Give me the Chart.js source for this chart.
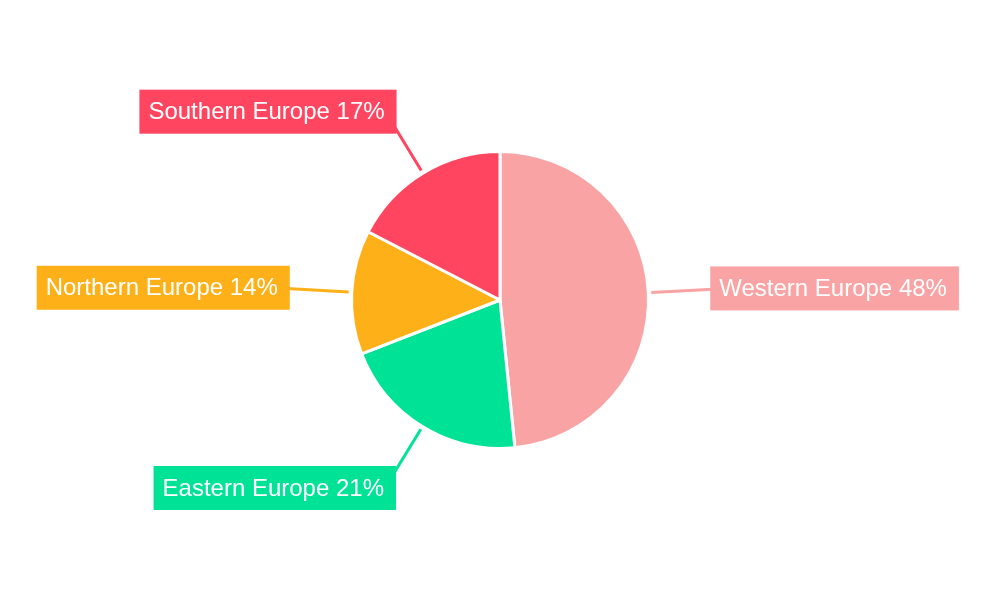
<!DOCTYPE html>
<html>
<head>
<meta charset="utf-8">
<script src="https://cdn.jsdelivr.net/npm/chart.js@4.4.0/dist/chart.umd.min.js"></script>
<style>
html,body{margin:0;padding:0;background:#fff;}
#wrap{width:1000px;height:600px;position:relative;}
</style>
</head>
<body>
<div id="wrap"><canvas id="c" width="1000" height="600"></canvas></div>
<script>
const categories = ["Western Europe", "Eastern Europe", "Northern Europe", "Southern Europe"];
const shares = [48.4, 20.7, 13.5, 17.4];
const sliceColors = ["#F9A3A4", "#00E396", "#FEB019", "#FF4560"];

const calloutPlugin = {
  id: 'callouts',
  afterDatasetsDraw(chart) {
    const ctx = chart.ctx;
    const meta = chart.getDatasetMeta(0);
    const ds = chart.data.datasets[0];
    const total = ds.data.reduce((a, b) => a + b, 0);
    const items = meta.data.map((arc, i) => {
      const p = arc.getProps(['x', 'y', 'startAngle', 'endAngle', 'outerRadius'], true);
      const mid = (p.startAngle + p.endAngle) / 2;
      const cos = Math.cos(mid), sin = Math.sin(mid);
      const r0 = p.outerRadius + 3, r1 = p.outerRadius + 62;
      return {
        i, cos, sin,
        x0: p.x + cos * r0, y0: p.y + sin * r0,
        x1: p.x + cos * r1, y1: p.y + sin * r1,
        color: ds.backgroundColor[i],
        text: chart.data.labels[i] + ' ' + Math.round(ds.data[i] * 100 / total) + '%'
      };
    });
    ctx.save();
    ctx.lineWidth = 3;
    items.forEach(it => {
      ctx.strokeStyle = it.color;
      ctx.beginPath();
      ctx.moveTo(it.x0, it.y0);
      ctx.lineTo(it.x1 + it.cos * 12, it.y1 + it.sin * 12);
      ctx.stroke();
    });
    ctx.font = '24px "Liberation Sans", Arial, sans-serif';
    ctx.textBaseline = 'middle';
    items.forEach(it => {
      const tw = ctx.measureText(it.text).width;
      const w = tw + 21, h = 44;
      let left = it.cos >= 0 ? it.x1 : it.x1 - w;
      if (Math.abs(it.sin) > 0.5) left = it.cos >= 0 ? it.x1 - 3 : it.x1 - w + 6;
      let cy = it.y1 - 1;
      if (Math.abs(it.sin) > 0.5) cy = it.y1 + (it.sin > 0 ? 8.5 : -8.5);
      ctx.fillStyle = it.color;
      ctx.fillRect(left, cy - h / 2, w, h);
      ctx.fillStyle = '#ffffff';
      ctx.textAlign = 'left';
      ctx.fillText(it.text, left + 9, cy + 1);
    });
    ctx.restore();
  }
};

new Chart(document.getElementById('c'), {
  type: 'pie',
  data: {
    labels: categories,
    datasets: [{
      data: shares,
      backgroundColor: sliceColors,
      borderColor: '#ffffff',
      borderWidth: 3
    }]
  },
  options: {
    responsive: false,
    animation: false,
    layout: { padding: { top: 150, bottom: 150 } },
    plugins: { legend: { display: false }, tooltip: { enabled: false } }
  },
  plugins: [calloutPlugin]
});
</script>
</body>
</html>
